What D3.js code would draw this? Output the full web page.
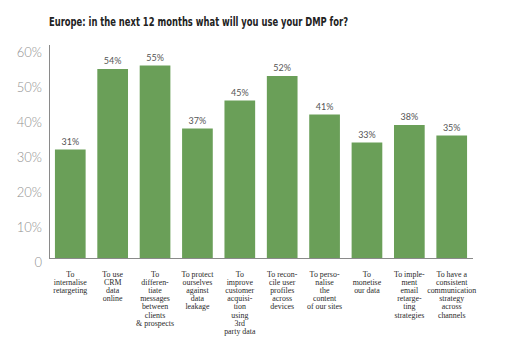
<!DOCTYPE html>
<html>
<head>
<meta charset="utf-8">
<script src="https://cdn.jsdelivr.net/npm/d3@7"></script>
<style>
  html, body { margin: 0; padding: 0; background: #fff; }
  svg { display: block; }
</style>
</head>
<body>
<svg id="chart" width="520" height="343"></svg>
<script>
// Survey answers: planned DMP uses in Europe over the next 12 months
const categories = [
  ["To", "internalise", "retargeting"],
  ["To use", "CRM", "data", "online"],
  ["To", "differen-", "tiate", "messages", "between", "clients", "& prospects"],
  ["To protect", "ourselves", "against", "data", "leakage"],
  ["To", "improve", "customer", "acquisi-", "tion", "using", "3rd", "party data"],
  ["To recon-", "cile user", "profiles", "across", "devices"],
  ["To perso-", "nalise", "the", "content", "of our sites"],
  ["To", "monetise", "our data"],
  ["To imple-", "ment", "email", "retarge-", "ting", "strategies"],
  ["To have a", "consistent", "communication", "strategy", "across", "channels"]
];
const values = [31, 54, 55, 37, 45, 52, 41, 33, 38, 35];
const yTicks = [0, 10, 20, 30, 40, 50, 60];
const title = "Europe: in the next 12 months what will you use your DMP for?";

const svg = d3.select("#chart");
const axisX = 49, baseY = 258, topY = 48, rightX = 473;

const x = d3.scaleBand()
  .domain(d3.range(values.length))
  .range([axisX, rightX])
  .paddingInner(0.276)
  .paddingOuter(0.14);

const y = d3.scaleLinear().domain([0, 60]).range([baseY, topY]);

// Title
svg.append("text")
  .attr("x", 49).attr("y", 26)
  .attr("font-family", "'Liberation Sans Narrow', 'DejaVu Sans Condensed', Roboto, sans-serif")
  .attr("font-weight", "bold")
  .attr("font-size", 13)
  .attr("fill", "#222")
  .attr("textLength", 299)
  .attr("lengthAdjust", "spacingAndGlyphs")
  .text(title);

// Y axis
const yAxis = d3.axisLeft(y)
  .tickValues(yTicks)
  .tickSize(0)
  .tickPadding(7)
  .tickFormat(d => d === 0 ? "0" : d + "%");

const gy = svg.append("g")
  .attr("transform", `translate(${axisX},0)`)
  .call(yAxis);
gy.select(".domain").attr("stroke", "#8a8a8a").attr("stroke-width", 1)
  .attr("d", `M0.5,${topY - 3}V${baseY + 0.5}`);
gy.selectAll(".tick text")
  .attr("font-family", "Lato, 'Open Sans', sans-serif")
  .attr("font-weight", 300)
  .attr("font-size", 13)
  .attr("fill", "#8f8f8f")
  .attr("dy", "0.66em");

// Bars
svg.append("g").selectAll("rect")
  .data(values)
  .join("rect")
  .attr("x", (d, i) => x(i))
  .attr("y", d => y(d))
  .attr("width", x.bandwidth())
  .attr("height", d => baseY - y(d))
  .attr("fill", "#6a9f58");

// Baseline
svg.append("line")
  .attr("x1", axisX).attr("x2", rightX)
  .attr("y1", baseY + 0.5).attr("y2", baseY + 0.5)
  .attr("stroke", "#8a8a8a");

// Value labels
svg.append("g").selectAll("text")
  .data(values)
  .join("text")
  .attr("x", (d, i) => x(i) + x.bandwidth() / 2)
  .attr("y", d => y(d) - 5)
  .attr("text-anchor", "middle")
  .attr("font-family", "Lato, 'Open Sans', sans-serif")
  .attr("font-size", 9)
  .attr("fill", "#555")
  .text(d => d + "%");

// Category labels, one tspan per wrapped line
const cat = svg.append("g").selectAll("text")
  .data(categories)
  .join("text")
  .attr("text-anchor", "middle")
  .attr("font-family", "'Liberation Serif', 'DejaVu Serif', serif")
  .attr("font-size", 7.9)
  .attr("fill", "#2a2a2a");
cat.each(function(lines, i) {
  d3.select(this).selectAll("tspan")
    .data(lines)
    .join("tspan")
    .attr("x", x(i) + x.bandwidth() / 2)
    .attr("y", (d, j) => 277 + j * 8.1)
    .text(d => d);
});
</script>
</body>
</html>
